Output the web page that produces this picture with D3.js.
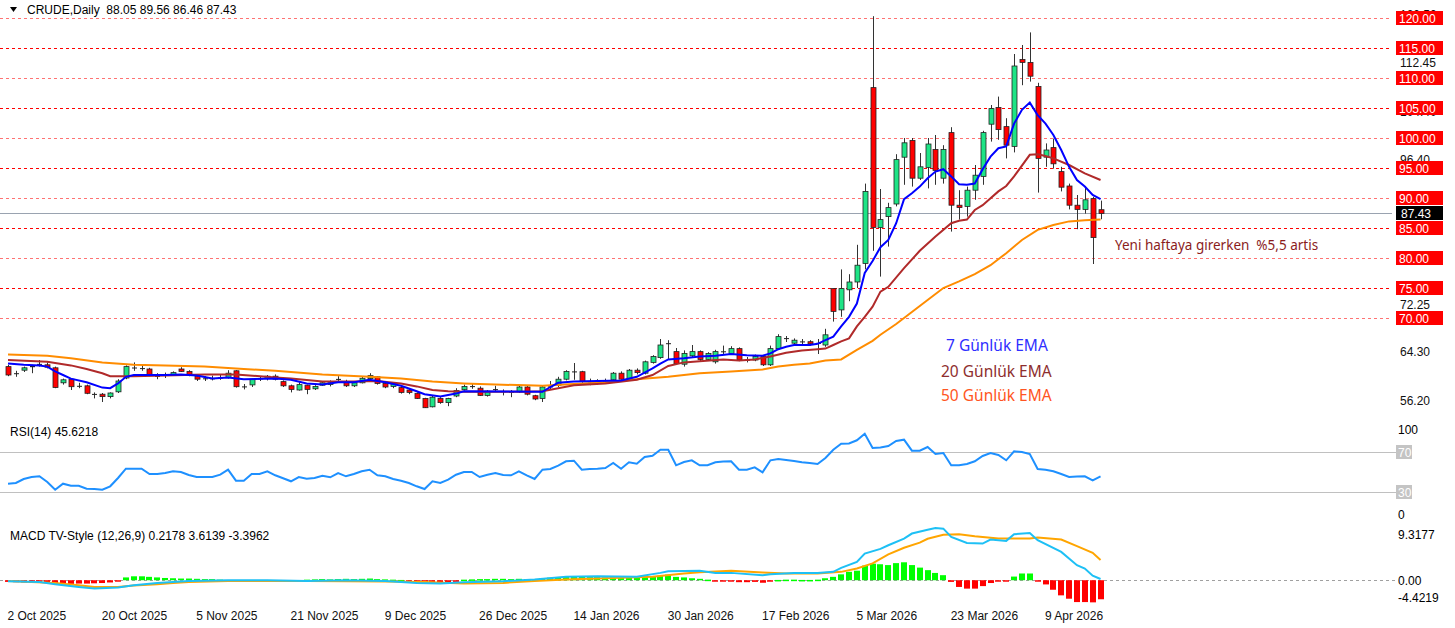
<!DOCTYPE html>
<html>
<head>
<meta charset="utf-8">
<script src="https://cdn.jsdelivr.net/npm/d3@7"></script>
<style>
  body { margin: 0; background: #fff; }
  svg { display: block; font-family: "Liberation Sans", Arial, sans-serif; }
  text { white-space: pre; }
</style>
</head>
<body>
<div id="chart"></div>
<script>
// daily bars, 2 Oct 2025 .. 20 Apr 2026 (140 bars)
const opens = [61.9,60.8,61.3,61.8,62.3,62.2,61.7,59.2,59.8,58.7, 58.7,57.3,57.3,56.9,57.7,60.0,61.7,61.6,61.5,60.3,
  60.5,60.6,61.5,61.1,60.3,59.9,59.9,60.05,60.1,61.2, 58.55,58.85,59.9,59.9,60.3,59.4,58.7,58.0,58.8,58.2,
  58.8,58.9,59.8,59.4,58.7,59.2,59.9,60.2,59.1,58.6, 58.4,58.0,57.45,56.6,55.2,56.6,55.9,57.0,58.05,58.6,
  58.3,57.1,58.1,57.8,57.7,57.7,58.5,57.05,56.6,58.6, 58.8,59.8,61.05,61.05,59.4,59.3,59.4,59.7,60.8,59.7,
  61.3,60.8,62.6,63.4,65.8,64.4,62.3,63.7,64.4,63.1, 62.7,64.4,64.1,64.9,63.0,63.0,63.6,62.2,64.9,66.6,
  65.8,66.05,66.05,65.8,65.5,74.9,71.35,74.7,76.0,79.1, 108.4,85.1,86.9,89.0,96.8,99.6,93.3,95.1,98.1,93.3,
  100.9,88.8,88.6,91.3,93.6,102.3,105.1,101.9,98.6,113.1, 112.6,108.6,96.8,98.4,94.4,92.0,88.8,88.1,89.9,88.05];
const highs = [62.2,61.2,61.9,62.2,63.0,62.6,61.9,59.9,60.0,59.2, 58.9,57.6,57.5,57.6,59.8,62.1,62.6,62.2,61.7,60.8,
  60.9,61.1,61.8,61.3,60.5,60.3,60.4,60.5,61.3,61.3, 59.0,59.9,60.3,60.5,60.6,59.6,58.9,59.3,58.9,58.8,
  59.5,59.6,60.3,59.7,59.3,60.2,60.8,60.3,59.3,59.3, 58.6,58.2,57.6,56.7,57.0,56.8,56.7,58.3,58.9,59.0,
  58.6,58.0,58.7,58.1,58.0,58.7,58.7,57.2,58.8,59.5, 60.2,61.3,62.5,61.2,59.9,59.8,59.9,61.0,61.1,61.5,
  61.6,62.9,63.8,66.5,66.3,65.0,64.6,65.5,64.6,64.3, 64.7,65.4,65.3,65.1,63.5,63.9,63.8,65.4,67.3,67.0,
  66.6,66.5,66.3,66.5,68.2,74.9,78.1,77.3,82.2,92.4, 120.3,91.5,89.2,97.3,100.0,100.0,97.5,100.0,100.5,98.8,
  101.8,91.3,91.9,95.5,101.2,105.5,106.9,103.3,114.0,115.5, 117.6,109.2,99.1,99.9,95.2,92.4,90.5,91.8,90.2,89.56];
const lows = [60.3,60.2,61.0,60.8,61.9,61.6,58.3,58.9,58.0,58.3, 57.3,56.6,56.0,56.6,57.5,59.8,61.2,61.2,60.3,59.8,
  60.0,60.4,61.0,60.3,59.5,59.5,59.6,59.7,59.9,58.4, 58.1,58.5,59.5,59.6,59.6,58.5,57.6,57.9,57.3,58.0,
  58.7,58.6,59.5,58.5,58.5,59.1,59.8,58.9,58.3,58.3, 57.4,57.3,56.5,55.0,55.1,55.7,55.3,56.8,57.9,58.2,
  57.0,56.9,57.8,57.1,56.8,57.5,57.1,56.3,56.0,58.0, 58.5,59.6,59.7,59.2,58.8,58.9,59.1,59.5,59.4,59.5,
  60.6,60.6,62.4,63.2,63.0,62.2,61.9,63.5,62.8,62.9, 62.4,64.0,63.9,62.8,62.6,62.8,62.0,62.0,64.7,66.0,
  65.4,65.5,65.4,64.0,65.2,69.4,70.2,72.8,75.0,78.1, 81.2,76.9,81.9,88.6,92.2,91.9,93.0,91.6,92.2,92.4,
  84.4,86.4,86.9,89.7,92.2,99.4,99.7,96.6,97.6,108.8, 109.4,90.9,95.2,94.9,91.1,88.1,84.8,87.4,79.0,86.46];
const closes = [60.5,60.75,61.7,62.0,62.35,61.8,58.4,59.7,58.55,58.65, 57.45,57.35,56.9,57.5,59.5,61.9,61.75,61.65,60.5,60.35,
  60.5,60.9,61.1,60.5,59.8,59.95,59.95,60.1,60.8,58.55, 58.6,59.8,59.95,60.3,59.8,58.7,58.1,58.9,58.1,58.6,
  59.2,59.2,59.85,58.7,59.2,59.95,60.4,59.1,58.5,59.1, 57.6,57.6,56.6,55.05,56.8,55.9,56.6,57.9,58.6,58.65,
  57.1,57.8,58.15,57.75,57.65,58.5,57.3,56.5,58.5,58.6, 59.8,61.1,61.1,59.4,59.45,59.55,59.45,60.8,59.8,61.3,
  60.9,62.7,63.6,65.5,65.75,62.4,64.1,64.4,63.1,64.1, 64.4,64.45,64.9,63.0,63.05,63.6,62.2,64.9,66.9,66.65,
  66.3,66.1,65.7,65.85,67.2,71.1,74.9,76.0,78.8,91.1, 85.1,86.4,88.4,96.4,99.2,93.3,95.2,99.0,94.6,98.1,
  88.8,88.4,91.3,93.8,100.9,104.9,101.4,98.8,112.0,112.6, 110.3,96.6,98.0,95.7,91.8,88.8,88.1,89.7,83.4,87.43];

// moving averages, [bar index, value]
const ema7 = [[0,62.4],[2,62.2],[4,62.1],[5,61.9],[6,61.1],[7,60.5],[8,59.9],[10,59.3],[12,58.4],[13,58.3],[14,59.1],[15,60.2],[16,60.5],[20,60.5],[22,60.6],[24,60.4],[26,59.9],[28,60.1],[30,59.8],[34,59.9],[36,59.7],[38,59.1],[40,58.9],[42,59.3],[44,59.3],[46,59.7],[48,59.3],[50,58.7],[52,57.8],[53,57.3],[55,56.9],[57,57.4],[58,57.8],[68,57.7],[69,58.5],[70,59.2],[72,59.4],[78,59.6],[80,60.2],[82,61.6],[83,62.4],[84,63.1],[86,63.3],[88,63.6],[90,63.7],[92,64.0],[94,63.8],[96,63.7],[97,64.1],[98,64.8],[99,65.2],[100,65.5],[102,65.5],[103,65.7],[104,66.3],[105,66.9],[106,68.6],[107,70.2],[108,72.4],[109,77.5],[110,79.5],[111,81.8],[112,83.0],[113,85.8],[114,89.8],[115,90.8],[116,91.9],[117,93.3],[118,94.4],[119,94.8],[120,93.6],[121,92.3],[122,92.2],[123,92.4],[124,94.8],[125,96.9],[126,98.3],[127,98.6],[128,102.4],[129,104.7],[130,105.9],[131,103.8],[132,102.4],[133,100.5],[134,98.0],[135,95.2],[136,93.0],[137,91.9],[138,90.5],[139,89.8]];
const ema20 = [[0,63.0],[5,62.7],[8,62.1],[10,61.5],[12,60.8],[13,60.3],[16,60.3],[20,60.4],[25,60.6],[29,60.6],[34,60.1],[36,59.9],[40,59.4],[44,59.4],[47,59.5],[50,59.1],[52,58.6],[54,58.0],[56,57.8],[58,57.7],[66,57.7],[68,57.8],[72,58.8],[76,59.1],[80,59.7],[82,60.5],[84,62.0],[86,62.6],[88,62.8],[91,63.1],[93,62.9],[95,63.1],[97,63.6],[99,64.2],[101,64.6],[103,64.8],[104,64.9],[105,65.5],[106,66.1],[107,66.6],[108,68.6],[109,70.2],[110,71.9],[111,74.4],[112,75.2],[114,78.3],[116,81.2],[118,83.6],[120,85.8],[121,86.2],[122,86.4],[123,88.0],[124,88.8],[126,91.1],[127,92.0],[128,93.6],[130,97.2],[131,97.3],[132,97.0],[133,96.6],[135,95.5],[137,94.1],[139,93.0]];
const ema50 = [[0,63.9],[5,63.7],[8,63.3],[12,62.6],[16,62.2],[20,62.1],[25,61.9],[30,61.5],[34,61.2],[40,60.6],[46,60.2],[50,59.9],[54,59.4],[58,59.1],[62,58.9],[66,58.8],[68,58.7],[72,59.0],[76,59.3],[80,59.8],[84,60.2],[88,60.8],[92,61.1],[96,61.4],[98,61.9],[100,62.2],[102,62.4],[104,62.9],[106,63.1],[108,64.7],[110,66.2],[111,67.2],[113,69.0],[115,71.0],[117,73.0],[119,75.0],[121,76.1],[123,77.3],[125,78.8],[127,80.8],[129,83.0],[131,84.7],[133,85.5],[135,86.1],[137,86.3],[139,86.4]];

const rsi = [38.3,39,43,45,45.7,40,32.3,38.3,36.3,36.3, 33.3,33,32.3,35.7,44,53.3,53.3,53.3,48,48,
  49,50.7,50,47,45,45,45,47.3,52.3,41.3, 41.3,48,48,50.7,46.7,43.7,40.7,45,43.3,44,
  46.3,44.7,49,45.7,48,50.7,52.3,46.7,45.7,43, 41.3,39,35.7,33,40.7,39,42.3,47.3,50,50,
  45,47.3,49,47,46.7,50.7,46.7,43,52.3,53, 56.3,60.7,61.3,52.3,53,53.3,54,59,53.3,59.7,
  58.3,65,66.3,72.3,72.3,56.7,60,61.7,56.7,56.7, 59.7,60.5,60.7,52.3,52.3,54.7,49.7,61.7,63,62,
  61,59.7,59,58,64,72.3,78.3,78.5,81.7,88.3, 74,74.5,76,81,82.3,71.3,71.3,75,68,69,
  56.7,56.7,58,60.7,66,69,67,61.7,70.7,70, 68,53,52.3,50.7,48,45,45.5,45.7,41.7,45.6];

const macdLine = [[0,-0.18],[4,-0.3],[6,-0.71],[9,-1.19],[11,-1.49],[14,-1.31],[16,-0.89],[19,-0.48],[21,-0.3],[23,-0.12],[28,0],[33,0],[38,-0.12],[43,0],[48,-0.12],[52,-0.48],[55,-0.6],[58,-0.36],[63,-0.18],[67,0.12],[71,0.6],[75,0.71],[80,0.6],[83,1.31],[84,1.6],[88,1.67],[90,1.31],[92,1.31],[96,0.89],[97,1.07],[100,1.31],[103,1.31],[105,1.49],[106,2.2],[108,3.27],[109,4.76],[111,5.6],[112,6.24],[114,7.43],[115,8.33],[117,9.0],[118,9.3],[119,9.2],[120,7.73],[122,6.66],[124,6.54],[125,7.26],[127,7.02],[128,8.2],[130,8.44],[131,7.14],[134,5.05],[136,2.68],[137,2.08],[138,0.8],[139,0.2178]];
const signalLine = [[0,-0.12],[6,-0.48],[9,-0.89],[11,-1.19],[14,-1.19],[16,-0.95],[19,-0.71],[21,-0.48],[23,-0.3],[28,-0.12],[38,-0.12],[48,-0.24],[53,-0.3],[58,-0.6],[63,-0.48],[67,-0.12],[71,0.12],[75,0.3],[82,0.6],[86,1.19],[88,1.43],[92,1.67],[96,1.37],[99,1.19],[103,1.19],[106,1.49],[108,2.08],[110,3.0],[112,4.6],[114,5.8],[116,6.7],[117,7.4],[119,8.1],[121,8.2],[123,7.85],[126,7.43],[130,7.43],[131,7.6],[134,7.26],[136,6.07],[138,4.88],[139,3.6139]];
const macdHist = [-0.3,-0.35,-0.4,-0.4,-0.45,-0.5,-0.6,-0.6,-0.65,-0.6, -0.6,-0.55,-0.5,-0.4,-0.1,0.5,0.7,0.7,0.6,0.5,
  0.4,0.35,0.3,0.3,0.25,0.2,0.2,0.1,-0.15,-0.2, -0.2,-0.15,-0.1,-0.1,-0.15,-0.2,-0.2,-0.1,0.1,0.15,
  0.2,0.15,0.2,0.25,0.2,0.25,0.3,0.2,0.15,0.1, 0.05,-0.1,-0.3,-0.45,-0.5,-0.5,-0.45,-0.3,0.1,0.15,
  0.2,0.2,0.25,0.25,0.2,0.25,0.2,0.15,0.3,0.45, 0.5,0.6,0.7,0.6,0.55,0.55,0.5,0.6,0.5,0.6,
  0.55,0.7,0.75,0.8,1.0,0.6,0.5,0.35,0.25,0.1, -0.05,-0.1,-0.2,-0.35,-0.35,-0.3,-0.45,-0.25,0.05,0.1,
  0.1,0.05,0.05,0.1,0.35,0.6,1.05,1.5,1.7,2.6, 2.95,2.85,2.7,3.05,3.2,2.7,2.25,1.8,1.3,0.9,
  -0.3,-1.2,-1.5,-1.5,-1.05,-0.5,-0.1,-0.25,0.65,1.2, 1.2,-0.1,-0.75,-1.7,-2.7,-3.3,-3.9,-3.9,-3.95,-3.4];

const levels = [120,115,110,105,100,95,90,85,80,75,70];
const scaleLabels = ["120.50","112.45","104.40","96.40","72.25","64.30","56.20"];
const lastPrice = 87.43;
const dateTicks = [0,12,24,36,48,60,72,84,96,108,120,132];
const dateLabels = ["2 Oct 2025","20 Oct 2025","5 Nov 2025","21 Nov 2025","9 Dec 2025","26 Dec 2025",
  "14 Jan 2026","30 Jan 2026","17 Feb 2026","5 Mar 2026","23 Mar 2026","9 Apr 2026"];


const W = 1455, H = 628, plotR = 1392, axisX = 1396;

const svg = d3.select("#chart").append("svg")
  .attr("width", W).attr("height", H);

const x = d3.scaleLinear().domain([0, 139]).range([8, 8 + 139 * 7.86]);
const px = i => Math.round(x(i)) + 0.5;

function drawMain() {
  const y = d3.scaleLinear().domain([70, 120]).range([318, 18]);
  const g = svg.append("g");

  // dashed price levels
  g.selectAll("line.lvl")
    .data(levels)
    .enter().append("line")
      .attr("x1", 0).attr("x2", plotR)
      .attr("y1", d => Math.round(y(d)) + 0.5)
      .attr("y2", d => Math.round(y(d)) + 0.5)
      .attr("stroke", "#ff0000")
      .attr("stroke-opacity", (d, i) => i % 2 ? 1 : 0.55)
      .attr("stroke-dasharray", "3,3");

  g.append("line")
    .attr("x1", 0).attr("x2", plotR)
    .attr("y1", Math.round(y(lastPrice)) + 0.5).attr("y2", Math.round(y(lastPrice)) + 0.5)
    .attr("stroke", "#9aa3b0");

  const bars = d3.range(opens.length).map(i => ({
    i, o: opens[i], h: highs[i], l: lows[i], c: closes[i]
  }));

  g.selectAll("line.wick")
    .data(bars)
    .enter().append("line")
      .attr("x1", d => px(d.i)).attr("x2", d => px(d.i))
      .attr("y1", d => y(d.h)).attr("y2", d => y(d.l))
      .attr("stroke", "#333");

  g.selectAll("rect.body")
    .data(bars)
    .enter().append("rect")
      .attr("x", d => px(d.i) - 2.5)
      .attr("width", 5)
      .attr("y", d => y(Math.max(d.o, d.c)))
      .attr("height", d => Math.max(1, Math.abs(y(d.o) - y(d.c))))
      .attr("fill", d => Math.abs(y(d.o) - y(d.c)) < 1.5 ? "#222" : (d.c >= d.o ? "#1ee486" : "#ff0000"))
      .attr("stroke", d => Math.abs(y(d.o) - y(d.c)) < 1.5 ? "none" : "#222")
      .attr("stroke-width", 0.8);

  const line = d3.line().x(d => x(d[0])).y(d => y(d[1]));
  [[ema50, "#ff8c00"], [ema20, "#b02a2a"], [ema7, "#0000ff"]].forEach(([pts, col]) => {
    g.append("path")
      .attr("d", line(pts))
      .attr("fill", "none")
      .attr("stroke", col)
      .attr("stroke-width", 2);
  });

  // notes
  g.append("text").attr("x", 1115).attr("y", 250)
    .style("font-family", "Noto Sans").style("font-size", "13.5px")
    .attr("fill", "#8b1c1c")
    .text("Yeni haftaya girerken  %5,5 artis");
  const legend = [["7 Günlük EMA", "#2f2fff", 946, 351], ["20 Günlük EMA", "#8e2e2e", 941, 377], ["50 Günlük EMA", "#ff5522", 941, 401]];
  legend.forEach(([t, col, lx, ly]) => {
    g.append("text").attr("x", lx).attr("y", ly)
      .style("font-family", "Noto Sans").style("font-size", "15.5px")
      .attr("fill", col).text(t);
  });

  // price scale
  g.selectAll("text.sc")
    .data(scaleLabels)
    .enter().append("text")
      .attr("x", axisX + 4)
      .attr("y", d => y(+d) + 4)
      .style("font-size", "12px")
      .attr("fill", "#111")
      .text(d => d);

  const tag = g.selectAll("g.tag")
    .data(levels)
    .enter().append("g")
      .attr("transform", d => `translate(${axisX},${Math.round(y(d))})`);
  tag.append("rect").attr("x", 0).attr("y", -7).attr("width", 47).attr("height", 14).attr("fill", "#ff0000");
  tag.append("text").attr("x", 3).attr("y", 4.5)
    .style("font-size", "12px").attr("fill", "#fff")
    .text(d => d.toFixed(2));

  const last = g.append("g").attr("transform", `translate(${axisX},${Math.round(y(lastPrice))})`);
  last.append("rect").attr("y", -7).attr("width", 47).attr("height", 14).attr("fill", "#000");
  last.append("text").attr("x", 5).attr("y", 4.5)
    .style("font-size", "12px").attr("fill", "#fff").text(lastPrice.toFixed(2));

  // header
  g.append("path").attr("d", "M10,7 L17,7 L13.5,12 Z").attr("fill", "#000");
  g.append("text").attr("x", 27).attr("y", 14)
    .style("font-size", "12px").attr("fill", "#000")
    .text("CRUDE,Daily  88.05 89.56 86.46 87.43");
}

function drawRsi() {
  const y = d3.scaleLinear().domain([0, 100]).range([522, 422]);
  const g = svg.append("g");

  [70, 30].forEach(v => {
    g.append("line")
      .attr("x1", 0).attr("x2", axisX)
      .attr("y1", Math.round(y(v)) + 0.5).attr("y2", Math.round(y(v)) + 0.5)
      .attr("stroke", "#c0c0c0");
    g.append("rect").attr("x", axisX).attr("y", y(v) - 7).attr("width", 16).attr("height", 14).attr("fill", "#c4c4c4");
    g.append("text").attr("x", axisX + 2).attr("y", y(v) + 4.5)
      .style("font-size", "12px").attr("fill", "#fff").text(v);
  });

  g.append("path")
    .datum(rsi)
    .attr("d", d3.line().x((d, i) => x(i)).y(d => y(d)))
    .attr("fill", "none")
    .attr("stroke", "#1e90ff")
    .attr("stroke-width", 2);

  g.append("text").attr("x", 10).attr("y", 436).style("font-size", "12px").text("RSI(14) 45.6218");
  g.append("text").attr("x", axisX + 2).attr("y", 434).style("font-size", "12px").text("100");
  g.append("text").attr("x", axisX + 2).attr("y", 519).style("font-size", "12px").text("0");
}

function drawMacd() {
  const y = d3.scaleLinear().domain([-4.4219, 9.3177]).range([605, 528]);
  const g = svg.append("g");

  g.append("line")
    .attr("x1", 0).attr("x2", axisX)
    .attr("y1", Math.round(y(0)) + 0.5).attr("y2", Math.round(y(0)) + 0.5)
    .attr("stroke", "#a0a0a0").attr("stroke-dasharray", "3,3");

  g.selectAll("rect.hist")
    .data(macdHist)
    .enter().append("rect")
      .attr("x", (d, i) => Math.round(x(i)) - 3)
      .attr("width", 6)
      .attr("y", d => d >= 0 ? y(d) : y(0))
      .attr("height", d => Math.max(1.5, Math.abs(y(d) - y(0))))
      .attr("fill", d => d >= 0 ? "#00ff00" : "#ff0000");

  const line = d3.line().x(d => x(d[0])).y(d => y(d[1]));
  g.append("path").attr("d", line(signalLine)).attr("fill", "none").attr("stroke", "#ffa500").attr("stroke-width", 2);
  g.append("path").attr("d", line(macdLine)).attr("fill", "none").attr("stroke", "#1ec0f5").attr("stroke-width", 2);

  g.append("text").attr("x", 10).attr("y", 540).style("font-size", "12px").text("MACD TV-Style (12,26,9) 0.2178 3.6139 -3.3962");
  g.append("text").attr("x", axisX + 2).attr("y", 539).style("font-size", "12px").text("9.3177");
  g.append("text").attr("x", axisX + 2).attr("y", y(0) + 4.5).style("font-size", "12px").text("0.00");
  g.append("text").attr("x", axisX + 2).attr("y", 602).style("font-size", "12px").text("-4.4219");
}

function drawDates() {
  const axis = d3.axisBottom(x)
    .tickValues(dateTicks)
    .tickFormat((d, i) => dateLabels[i])
    .tickSize(0)
    .tickPadding(0);
  const g = svg.append("g")
    .attr("transform", "translate(0,608)")
    .call(axis);
  g.select(".domain").remove();
  g.selectAll("text")
    .attr("text-anchor", "start")
    .attr("dx", -1)
    .attr("dy", 12)
    .style("font-family", "Liberation Sans")
    .style("font-size", "12px")
    .attr("fill", "#111");
}

drawMain();
drawRsi();
drawMacd();
drawDates();
</script>
</body>
</html>
